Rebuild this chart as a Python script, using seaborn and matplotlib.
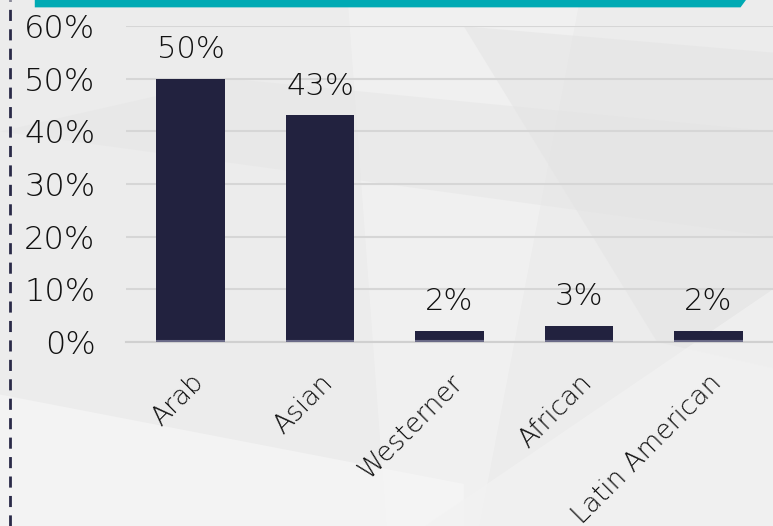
import matplotlib
matplotlib.use("Agg")
import matplotlib.pyplot as plt
import matplotlib.transforms as mtransforms
from matplotlib.patches import Polygon
from matplotlib.lines import Line2D
import numpy as np
import seaborn as sns

categories = ["Arab", "Asian", "Westerner", "African", "Latin American"]
shares = [0.50, 0.43, 0.02, 0.03, 0.02]
value_labels = ["50%", "43%", "2%", "3%", "2%"]
y_ticks = [0.0, 0.1, 0.2, 0.3, 0.4, 0.5, 0.6]
y_tick_labels = ["0%", "10%", "20%", "30%", "40%", "50%", "60%"]

sns.set_theme(style="white")
plt.rcParams["font.family"] = ["DejaVu Sans"]

fig = plt.figure(figsize=(7.73, 5.26), dpi=100)
fig.patch.set_facecolor("#ececec")

# decorative background shapes
shapes = [
    ([(0.45, 1.0), (0.75, 1.0), (0.62, 0.0), (0.5, 0.0)], "#f4f4f4", 0.6),
    ([(0.0, 0.25), (0.6, 0.08), (0.6, 0.0), (0.0, 0.0)], "#f6f6f6", 0.7),
    ([(0.0, 0.75), (1.0, 0.55), (1.0, 0.75), (0.3, 0.85)], "#e5e5e5", 0.5),
    ([(0.6, 0.95), (1.0, 0.9), (1.0, 0.3), (0.85, 0.35)], "#e3e3e3", 0.5),
    ([(0.55, 0.0), (1.0, 0.45), (1.0, 0.0)], "#f2f2f2", 0.7),
]
for pts, col, a in shapes:
    fig.patches.append(Polygon(pts, closed=True, transform=fig.transFigure,
                               facecolor=col, edgecolor="none", alpha=a, zorder=0))

# teal header strip and dashed border line
fig.patches.append(Polygon([(0.045, 1.0), (0.965, 1.0), (0.958, 0.986), (0.045, 0.986)],
                           closed=True, transform=fig.transFigure,
                           facecolor="#00aab4", edgecolor="none", zorder=1))
fig.lines.append(Line2D([0.013, 0.013], [0.0, 1.0], transform=fig.transFigure,
                        color="#2a2a48", lw=2, linestyle=(0, (4, 3)), zorder=1))

ax = fig.add_axes([0.163, 0.35, 0.837, 0.6006])
ax.set_zorder(5)
ax.set_facecolor("none")

sns.barplot(x=categories, y=shares, color="#22223f", width=0.53,
            saturation=1, edgecolor="none", ax=ax, zorder=3)
# thin lighter rim at the foot of each bar
for p in ax.patches:
    ax.plot([p.get_x(), p.get_x() + p.get_width()], [0.002, 0.002],
            color="#6b6b88", lw=1.5, zorder=4, solid_capstyle="butt")

for i, (v, lab) in enumerate(zip(shares, value_labels)):
    ax.text(i, v + 0.056, lab, ha="center", va="center", fontsize=22,
            color="#111111", fontweight="light")

ax.set_ylim(0, 0.6)
ax.set_xlim(-0.5, 4.44)
ax.set_yticks(y_ticks)
ax.set_yticklabels(y_tick_labels, fontsize=23, color="#111111", fontweight="light")
ax.set_xticks(range(len(categories)))
ax.set_xticklabels(categories, rotation=45, ha="right", rotation_mode="anchor",
                   fontsize=19, color="#111111", fontweight="light")
shift = mtransforms.ScaledTranslation(-6 / 100, 0, fig.dpi_scale_trans)
for t in ax.get_xticklabels():
    t.set_transform(t.get_transform() + shift)
ax.set_xticks(np.arange(-0.5, 5, 1), minor=True)
ax.tick_params(axis="y", length=0, pad=22)
ax.tick_params(axis="x", which="major", length=0, pad=20)
ax.tick_params(axis="x", which="minor", length=9, color="#d0d0d0", width=1.5)

ax.grid(axis="y", color="#d6d6d6", lw=1.5, zorder=0)
for s in ["top", "right", "left"]:
    ax.spines[s].set_visible(False)
ax.spines["bottom"].set_color("#d0d0d0")
ax.spines["bottom"].set_linewidth(1.5)
ax.set_xlabel("")
ax.set_ylabel("")

fig.savefig("out.png", dpi=100, facecolor=fig.get_facecolor())
